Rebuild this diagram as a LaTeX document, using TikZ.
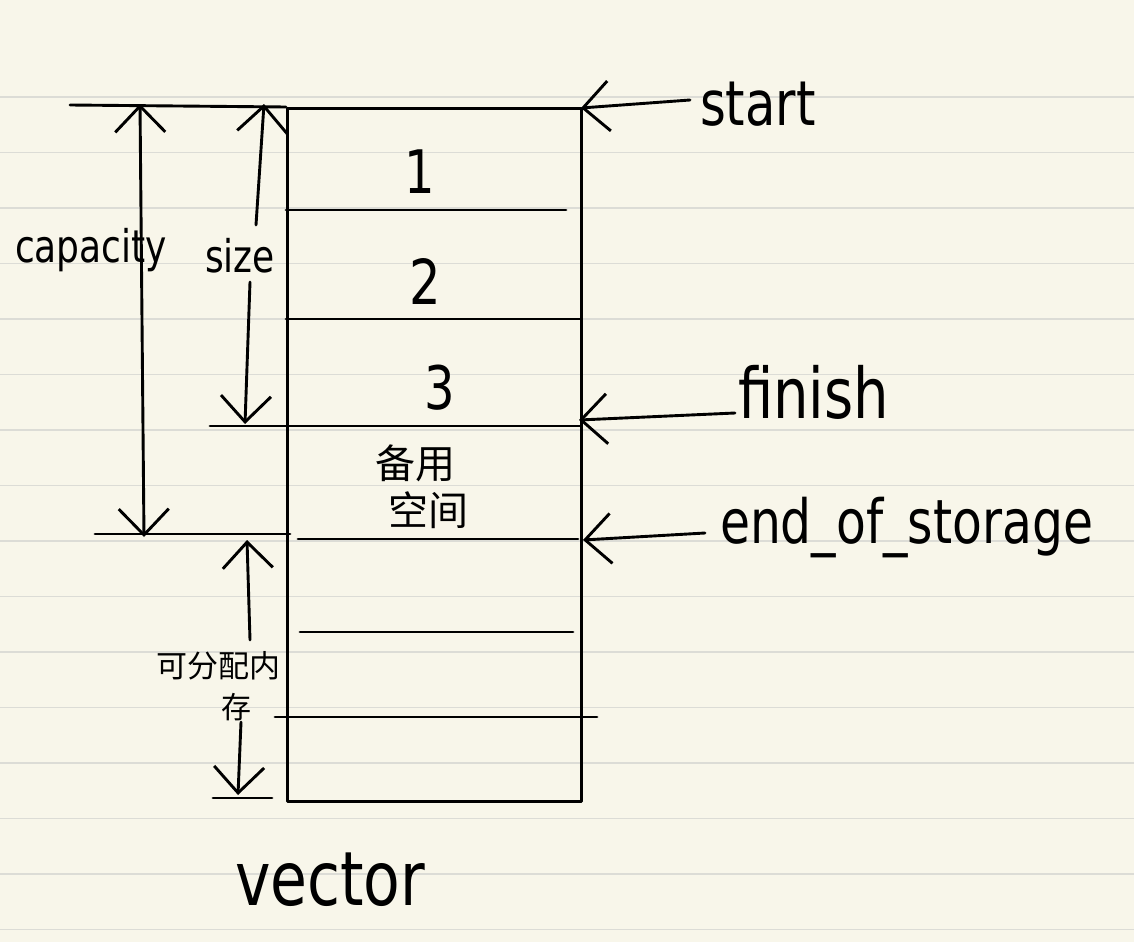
\documentclass[tikz,border=0pt]{standalone}
\usepackage{fontspec}
\setmainfont{DejaVu Sans}
\newfontfamily\cjk{Noto Sans CJK SC}
\usetikzlibrary{arrows.meta}
\definecolor{paper}{HTML}{F8F6EA}
\definecolor{ruled}{HTML}{DCDCD6}
\newcommand{\hw}[2]{{\fontsize{#1}{#1}\selectfont\scalebox{0.8}[1]{#2}}}
\tikzset{
  ink/.style={line width=2.9pt, black, line cap=round, line join=round},
  barb/.style={-{Straight Barb[length=26pt,width=50pt,line width=2.9pt]}},
  dbarb/.style={{Straight Barb[length=26pt,width=50pt,line width=2.9pt]}-{Straight Barb[length=26pt,width=50pt,line width=2.9pt]}},
  rule/.style={line width=1.6pt, ruled},
  lab/.style={inner sep=0pt, outer sep=0pt, text=black},
}
\begin{document}
\begin{tikzpicture}[x=1pt,y=-1pt]
\useasboundingbox (0,0) rectangle (1134,942);
\fill[paper] (0,0) rectangle (1134,942);
% ruled paper lines
\foreach \k in {0,...,15} {
  \draw[rule] (0,{97+55.5*\k}) -- (1134,{97+55.5*\k});
}
% the vector box
\node[draw, ink, minimum width=294pt, minimum height=693pt, anchor=north west, inner sep=0pt] (box) at (286,107) {};
% row separators
\coordinate (r1a) at (286,210); \coordinate (r1b) at (566,210);
\coordinate (r2a) at (286,319); \coordinate (r2b) at (580,319);
\coordinate (r3a) at (210,426); \coordinate (r3b) at (580,426);
\coordinate (r4l) at (95,534);  \coordinate (r4m) at (290,534);
\coordinate (r4a) at (298,539); \coordinate (r4b) at (578,539);
\coordinate (r5a) at (300,632); \coordinate (r5b) at (573,632);
\coordinate (r6a) at (275,717); \coordinate (r6b) at (597,717);
\coordinate (r7a) at (213,798); \coordinate (r7b) at (272,798);
\coordinate (topl) at (70,105);
\draw[ink] (topl) -- (box.north west);
\draw[ink] (r1a) -- (r1b);
\draw[ink] (r2a) -- (r2b);
\draw[ink] (r3a) -- (r3b);
\draw[ink] (r4l) -- (r4m);
\draw[ink] (r4a) -- (r4b);
\draw[ink] (r5a) -- (r5b);
\draw[ink] (r6a) -- (r6b);
\draw[ink] (r7a) -- (r7b);
% cell contents
\node[lab] (n1) at (420,172) {\fontsize{60}{60}\selectfont\scalebox{0.8}[1]{1}};
\node[lab] (n2) at (425,281) {\fontsize{62}{62}\selectfont\scalebox{0.8}[1]{2}};
\node[lab] (n3) at (440,388) {\fontsize{60}{60}\selectfont\scalebox{0.8}[1]{3}};
\node[lab] (spareA) at (415,463) {\cjk\fontsize{40}{40}\selectfont 备用};
\node[lab] (spareB) at (428,510) {\cjk\fontsize{40}{40}\selectfont 空间};
% capacity dimension
\coordinate (capT) at (140,104);
\coordinate (capB) at (144,537);
\draw[ink, dbarb] (capB) -- (capT);
\node[lab, anchor=base west] (capacity) at (15,262) {\hw{45}{capacity}};
% size dimension
\coordinate (sizeT) at (264,104);
\coordinate (sizeM1) at (256,225);
\coordinate (sizeM2) at (250,282);
\coordinate (sizeB) at (245,424);
\draw[ink, barb] (sizeM1) -- (sizeT);
\draw[ink, barb] (sizeM2) -- (sizeB);
\node[lab, anchor=base west] (size) at (205,272) {\hw{45}{size}};
% allocatable memory dimension
\coordinate (alT) at (247,540);
\coordinate (alM1) at (250,640);
\coordinate (alM2) at (241,722);
\coordinate (alB) at (238,795);
\draw[ink, barb] (alM1) -- (alT);
\draw[ink, barb] (alM2) -- (alB);
\node[lab] (alloc1) at (218,666) {\cjk\fontsize{31}{31}\selectfont 可分配内};
\node[lab] (alloc2) at (236,707) {\cjk\fontsize{30}{30}\selectfont 存};
% pointers
\coordinate (startT) at (690,100);
\coordinate (startH) at (581,108);
\draw[ink, barb] (startT) -- (startH);
\node[lab, anchor=base west] (start) at (700,125) {\hw{62}{start}};
\coordinate (finT) at (735,413);
\coordinate (finH) at (579,420);
\draw[ink, barb] (finT) -- (finH);
\node[lab, anchor=base west] (finish) at (738,418) {\hw{70}{finish}};
\coordinate (eosT) at (705,533);
\coordinate (eosH) at (583,540);
\draw[ink, barb] (eosT) -- (eosH);
\node[lab, anchor=base west] (eos) at (720,543) {\hw{61}{end\_of\_storage}};
% caption
\node[lab, anchor=base west] (vector) at (235,905) {\hw{75}{vector}};
\end{tikzpicture}
\end{document}
